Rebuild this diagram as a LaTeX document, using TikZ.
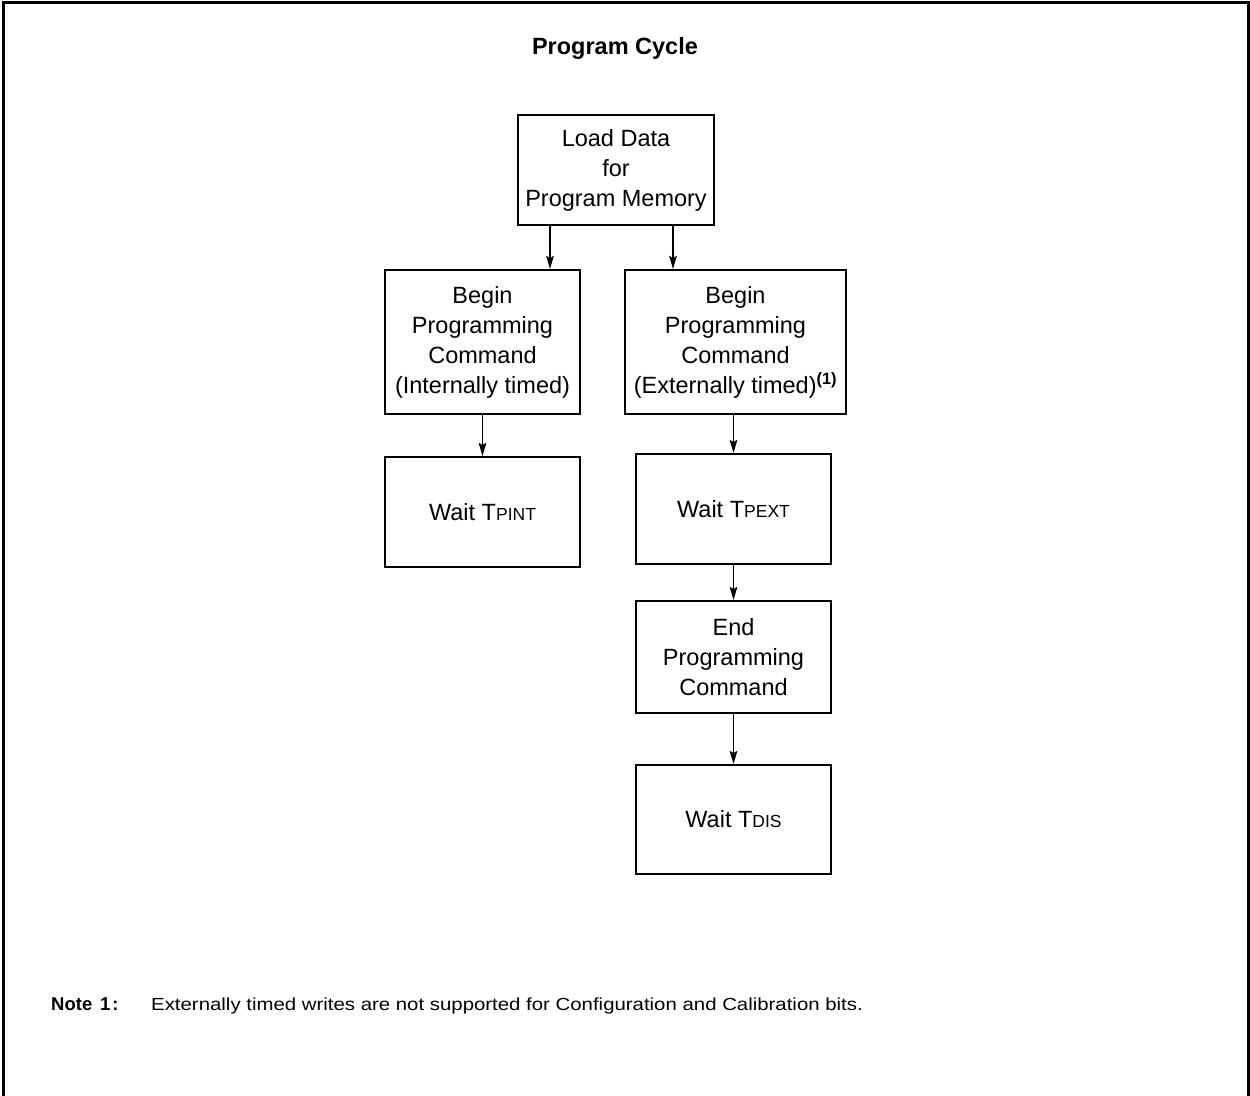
\documentclass[tikz,border=0pt]{standalone}
\usepackage{fontspec}
\setmainfont{Liberation Sans}
\usetikzlibrary{arrows.meta,positioning}
\newcommand{\scsub}[1]{{\fontsize{17.5}{20}\selectfont #1}}
\begin{document}
\begin{tikzpicture}[x=1pt,y=-1pt,
  box/.style={draw,line width=2pt,rectangle,align=center,inner sep=0pt,
    font=\fontsize{23.5}{30}\selectfont,minimum width=195pt},
  arr/.style={line width=1.9pt,-{Stealth[length=13pt,width=7.5pt,inset=2pt]}},
  frame/.style={line width=3pt}]
\useasboundingbox (0,0) rectangle (1250,1095);
\draw[frame] (3,1096) -- (3,2) -- (1248,2) -- (1248,1096);
\node[font=\bfseries\fontsize{23.5}{28}\selectfont] (title) at (615,48) {Program Cycle};
\node[box,minimum width=196pt,minimum height=110pt] (load) at (616,170) {Load Data\\for\\Program Memory};
\node[box,minimum height=144pt] (bint) at (482.5,342) {Begin\\Programming\\Command\\(Internally timed)};
\node[box,minimum width=221pt,minimum height=144pt] (bext) at (735.5,342) {Begin\\Programming\\Command\\(Externally timed)\textsuperscript{\bfseries (1)}};
\node[box,minimum height=110pt] (wint) at (482.5,512) {Wait T\scsub{PINT}};
\node[box,minimum height=110pt] (wext) at (733.5,509) {Wait T\scsub{PEXT}};
\node[box,minimum height=112pt] (endp) at (733.5,657) {End\\Programming\\Command};
\node[box,minimum height=109pt] (wdis) at (733.5,819.5) {Wait T\scsub{DIS}};
\draw[arr] ([xshift=-66pt]load.south) -- ([xshift=-66pt]load.south |- bint.north);
\draw[arr] ([xshift=57pt]load.south) -- ([xshift=57pt]load.south |- bext.north);
\draw[arr] (bint.south) -- (wint.north);
\draw[arr] (wext.north |- bext.south) -- (wext.north);
\draw[arr] (wext.south) -- (endp.north);
\draw[arr] (endp.south) -- (wdis.north);
\node[anchor=base west,font=\bfseries\fontsize{18.5}{20}\selectfont,inner sep=0pt] (notelab) at (51,1010) {Note};
\node[anchor=base west,font=\bfseries\fontsize{18.5}{20}\selectfont,inner sep=0pt] (notenum) at (100,1010) {1\kern2pt:};
\node[anchor=base west,font=\fontsize{17.5}{20}\selectfont,inner sep=0pt] (notetxt) at (151,1010) {\scalebox{1.165}[1]{Externally timed writes are not supported for Configuration and Calibration bits.}};
\end{tikzpicture}
\end{document}
